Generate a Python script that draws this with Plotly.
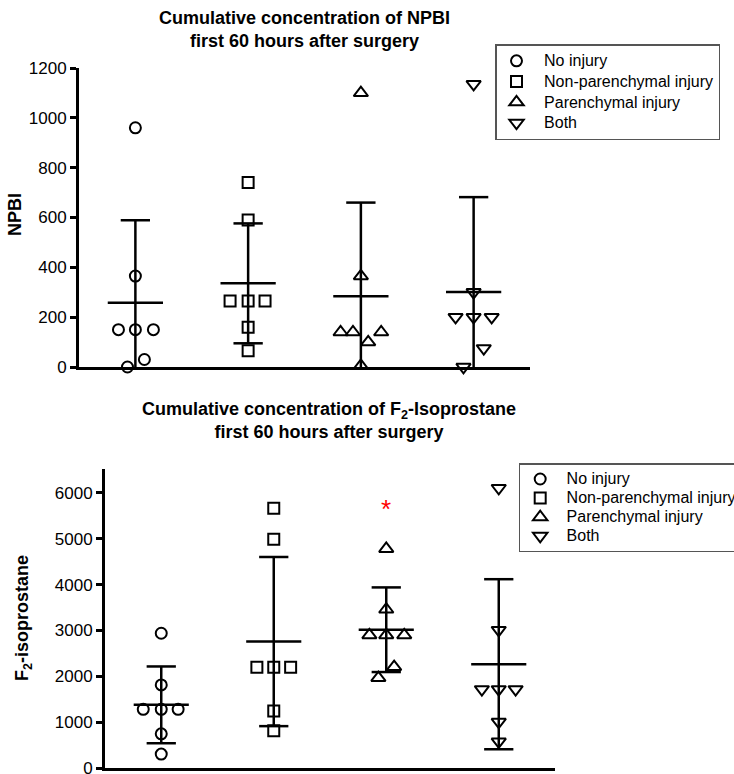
import numpy as np
import plotly.graph_objects as go

# ---------------- data ----------------
groups = ["No injury", "Non-parenchymal injury", "Parenchymal injury", "Both"]

npbi_no_injury = [960, 365, 150, 150, 150, 30, 0]
npbi_nonparenchymal = [740, 590, 265, 265, 265, 160, 65]
npbi_parenchymal = [1100, 365, 140, 140, 140, 100, 5]
npbi_both = [1135, 300, 200, 200, 200, 75, 0]

f2_no_injury = [2940, 1815, 1285, 1285, 1285, 750, 310]
f2_nonparenchymal = [5660, 4985, 2200, 2200, 2200, 1250, 820]
f2_parenchymal = [4780, 3460, 2900, 2900, 2900, 2210, 1970]
f2_both = [6100, 3010, 1720, 1720, 1720, 1010, 580]

npbi_ticks = [0, 200, 400, 600, 800, 1000, 1200]
f2_ticks = [0, 1000, 2000, 3000, 4000, 5000, 6000]

sig_group = "Parenchymal injury"
sig_value = 5770

# ---------------- style ----------------
npbi_jitter = [
    [0, 0, -0.15, 0, 0.16, 0.08, -0.07],
    [0, 0, -0.16, 0, 0.15, 0, 0],
    [0, 0, -0.18, -0.07, 0.18, 0.065, 0],
    [0, 0, -0.16, 0, 0.16, 0.09, -0.09],
]
f2_jitter = [
    [0, 0, -0.16, 0, 0.15, 0, 0],
    [0, 0, -0.15, 0, 0.15, 0, 0],
    [0, 0, -0.15, 0, 0.16, 0.07, -0.07],
    [0, 0, -0.15, 0, 0.15, 0, 0],
]
symbols = ["circle-open", "square-open", "triangle-up-open", "triangle-down-open"]
sizes = [11, 11, 12.5, 12.5]
FONT = "Liberation Sans, Arial, sans-serif"
W, H = 734, 774

npbi_data = [npbi_no_injury, npbi_nonparenchymal, npbi_parenchymal, npbi_both]
f2_data = [f2_no_injury, f2_nonparenchymal, f2_parenchymal, f2_both]

fig = go.Figure()


def legend_label(name):
    return '&nbsp;&nbsp;<span style="font-size:16px">' + name + "</span>"


def add_panel(data, jitter, xa, ya, legend):
    # mean and SD lines
    lx, ly = [], []
    for i, vals in enumerate(data):
        v = np.array(vals, dtype=float)
        m = v.mean()
        s = v.std(ddof=1)
        mw, cw = 0.245, 0.13
        lx += [i - mw, i + mw, None]
        ly += [m, m, None]
        lx += [i, i, None]
        ly += [m - s, m + s, None]
        lx += [i - cw, i + cw, None, i - cw, i + cw, None]
        ly += [m + s, m + s, None, m - s, m - s, None]
    fig.add_trace(go.Scatter(x=lx, y=ly, mode="lines", line=dict(color="black", width=2.5),
                             xaxis=xa, yaxis=ya, showlegend=False, hoverinfo="skip"))
    for i, vals in enumerate(data):
        xs = [i + j for j in jitter[i]]
        fig.add_trace(go.Scatter(
            x=xs, y=vals, mode="markers", name=legend_label(groups[i]),
            marker=dict(symbol=symbols[i], size=sizes[i], color="black",
                        line=dict(color="black", width=2)),
            xaxis=xa, yaxis=ya, legend=legend, cliponaxis=False))


add_panel(npbi_data, npbi_jitter, "x", "y", "legend")
add_panel(f2_data, f2_jitter, "x2", "y2", "legend2")

# significance asterisk
fig.add_annotation(x=groups.index(sig_group), y=sig_value, xref="x2", yref="y2",
                   text="*", showarrow=False, yshift=-6,
                   font=dict(size=26, color="red", family=FONT))

axis_common = dict(showgrid=False, zeroline=False, showline=True, linecolor="black", linewidth=3)
yaxis_common = dict(ticks="outside", ticklen=6, tickwidth=2.5, tickcolor="black",
                    tickfont=dict(size=17), ticklabeloverflow="allow")
fig.update_layout(
    width=W, height=H,
    margin=dict(l=0, r=0, t=0, b=0, autoexpand=False),
    paper_bgcolor="white", plot_bgcolor="white",
    font=dict(family=FONT, color="black"),
    xaxis=dict(domain=[79 / W, 530 / W], range=[-0.5, 3.5], showticklabels=False, ticks="",
               anchor="y", **axis_common),
    yaxis=dict(domain=[1 - 367 / H, 1 - 68 / H], range=[0, 1200], tickvals=npbi_ticks,
               anchor="x", **yaxis_common, **axis_common),
    xaxis2=dict(domain=[105 / W, 555 / W], range=[-0.5, 3.5], showticklabels=False, ticks="",
                anchor="y2", **axis_common),
    yaxis2=dict(domain=[1 - 768.3 / H, 1 - 469.3 / H], range=[0, 6510], tickvals=f2_ticks,
                anchor="x2", **yaxis_common, **axis_common),
    legend=dict(x=495 / W, y=1 - 44 / H, xanchor="left", yanchor="top",
                bordercolor="#555", borderwidth=1.5, bgcolor="rgba(255,255,255,0)",
                font=dict(size=13.6), itemwidth=30),
    legend2=dict(x=518.7 / W, y=1 - 463 / H, xanchor="left", yanchor="top",
                 bordercolor="#555", borderwidth=1.5, bgcolor="rgba(255,255,255,0)",
                 font=dict(size=11.5), itemwidth=30),
)

# titles
fig.add_annotation(text="<b>Cumulative concentration of NPBI<br>first 60 hours after surgery</b>",
                   x=304 / W, y=1 - 29 / H, xref="paper", yref="paper", showarrow=False,
                   font=dict(size=18), xanchor="center", yanchor="middle")
fig.add_annotation(text="<b>Cumulative concentration of F<sub>2</sub>-Isoprostane<br>first 60 hours after surgery</b>",
                   x=329 / W, y=1 - 420.5 / H, xref="paper", yref="paper", showarrow=False,
                   font=dict(size=18), xanchor="center", yanchor="middle")
# y-axis titles
fig.add_annotation(text="<b>NPBI</b>", x=15 / W, y=1 - 215 / H, xref="paper", yref="paper",
                   showarrow=False, textangle=-90, font=dict(size=18),
                   xanchor="center", yanchor="middle")
fig.add_annotation(text="<b>F<sub>2</sub>-isoprostane</b>", x=23 / W, y=1 - 618 / H,
                   xref="paper", yref="paper", showarrow=False, textangle=-90,
                   font=dict(size=18), xanchor="center", yanchor="middle")

fig.write_html("out.html")
